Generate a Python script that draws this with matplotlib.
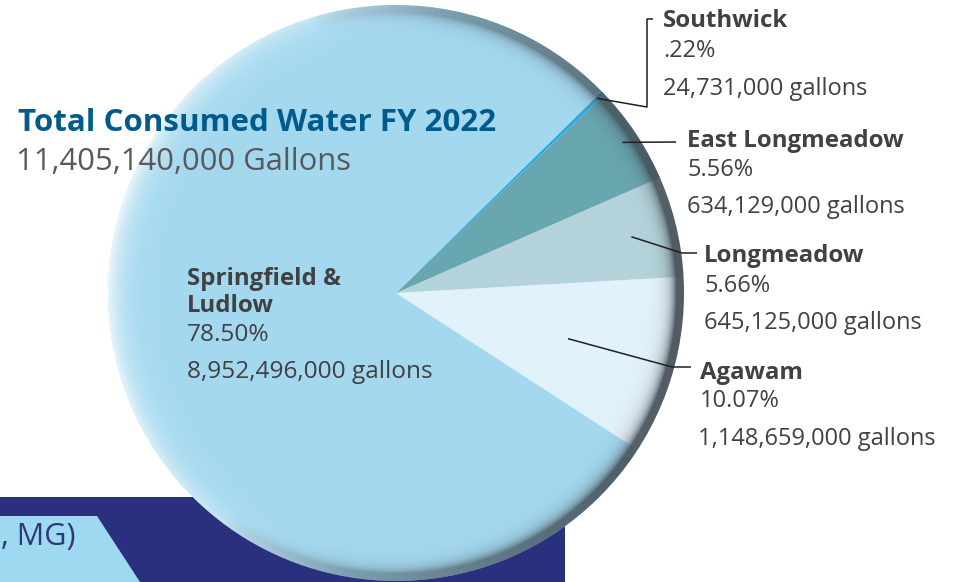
import numpy as np
import matplotlib.pyplot as plt
from matplotlib.patches import Circle, Polygon, Rectangle

# data
towns = ['Agawam', 'Longmeadow', 'East Longmeadow', 'Southwick', 'Springfield &\nLudlow']
gallons = [1148659000, 645125000, 634129000, 24731000, 8952496000]
pct_labels = ['10.07%', '5.66%', '5.56%', '.22%', '78.50%']
gal_labels = ['1,148,659,000 gallons', '645,125,000 gallons', '634,129,000 gallons',
              '24,731,000 gallons', '8,952,496,000 gallons']
colors = ['#e2f2fa', '#b4d3da', '#68a6b0', '#29abe2', '#a3d8ef']
title = 'Total Consumed Water FY 2022'
total_label = '11,405,140,000 Gallons'

W, H = 955, 582
FONT = 'Open Sans'
GREY = '#414042'


def Y(y):
    # image pixel row -> data y
    return H - y


fig = plt.figure(figsize=(W / 100, H / 100), dpi=100)
ax = fig.add_axes([0, 0, 1, 1])

# banner at the bottom left
ax.add_patch(Rectangle((0, 0), 565, Y(497), facecolor='#2a307d', lw=0, zorder=0))
ax.add_patch(Polygon([(0, Y(516)), (97, Y(516)), (140, 0), (0, 0)],
                     closed=True, facecolor='#9fd8f1', lw=0, zorder=1))
ax.text(1, Y(545), ', MG)', fontsize=22, family=FONT, color='#2e3878', va='baseline', zorder=1)

# pie
cx, cy, R = 396, Y(293), 288
start = -33
wedges, _ = ax.pie(gallons, colors=colors, startangle=start, counterclock=True,
                   center=(cx, cy), radius=R, wedgeprops=dict(linewidth=0))
for w in wedges:
    w.set_zorder(2)

# rim shading: dark on the right, light on the left
n = 2 * R
xs = np.linspace(cx - R, cx + R, n)
ys = np.linspace(cy - R, cy + R, n)
X, Yg = np.meshgrid(xs, ys)
r = np.hypot(X - cx, Yg - cy)
th = np.arctan2(Yg - cy, X - cx)
d = np.clip(R - r, 0, None)
side = np.cos(th + np.radians(10))
dark_w = np.clip((side + 0.45) / 1.45, 0, 1) ** 0.7
prof = np.where(d < 7, 0.88, 0.88 * np.exp(-(d - 7) / 6))
da = dark_w * prof
light_w = np.clip(-np.cos(th + np.radians(10)), 0, 1)
la = light_w * 0.8 * np.exp(-d / 14)
img = np.zeros((n, n, 4))
dark = np.array([0.25, 0.28, 0.31])
tot = da + la + 1e-9
img[..., :3] = (da[..., None] * dark + la[..., None] * 1.0) / tot[..., None]
img[..., 3] = 1 - (1 - da) * (1 - la)
img[r > R + 1, 3] = 0
im = ax.imshow(img, extent=(cx - R, cx + R, cy - R, cy + R), origin='lower',
               zorder=3, interpolation='bilinear')
im.set_clip_path(Circle((cx, cy), R, transform=ax.transData))

# leader lines: start on each wedge, then elbow to the label
angles = np.cumsum([0] + gallons) / sum(gallons) * 360 + start
mids = (angles[:-1] + angles[1:]) / 2
lead_r = [178, 242, 272, 280]
elbows = [
    [(672, 367), (691, 367)],
    [(682, 253), (697, 253)],
    [(676, 142)],
    [(647, 107), (647, 19), (653, 19)],
]
for i in range(4):
    a = np.radians(mids[i])
    px = [cx + lead_r[i] * np.cos(a)] + [p[0] for p in elbows[i]]
    py = [cy + lead_r[i] * np.sin(a)] + [Y(p[1]) for p in elbows[i]]
    ax.plot(px, py, color='#231f20', lw=1.1, zorder=4, solid_capstyle='butt')

# labels: x, name baseline (last line), pct baseline, gallons baseline
label_pos = [
    (700, 379, 407, 445),
    (704, 262, 292, 329),
    (687, 147, 176, 213),
    (663, 27, 57, 95),
    (187, 312, 341, 378),
]
for i in range(5):
    x, b1, b2, b3 = label_pos[i]
    fs = 17.6 if i == 4 else 17
    ax.text(x, Y(b1), towns[i], fontsize=17.3, fontweight='bold', family=FONT,
            color=GREY, va='baseline', linespacing=1.15, zorder=5)
    ax.text(x, Y(b2), pct_labels[i], fontsize=fs, family=FONT, color=GREY,
            va='baseline', zorder=5)
    ax.text(x - (2 if i == 0 else 0), Y(b3), gal_labels[i], fontsize=fs, family=FONT,
            color=GREY, va='baseline', zorder=5)

ax.text(18, Y(131), title, fontsize=22.5, fontweight='bold', family=FONT,
        color='#005a8b', va='baseline', zorder=5)
ax.text(16, Y(170), total_label, fontsize=22.3, family=FONT, color='#58595b',
        va='baseline', zorder=5)

ax.set_xlim(0, W)
ax.set_ylim(0, H)
ax.axis('off')
fig.savefig('out.png', dpi=100)
